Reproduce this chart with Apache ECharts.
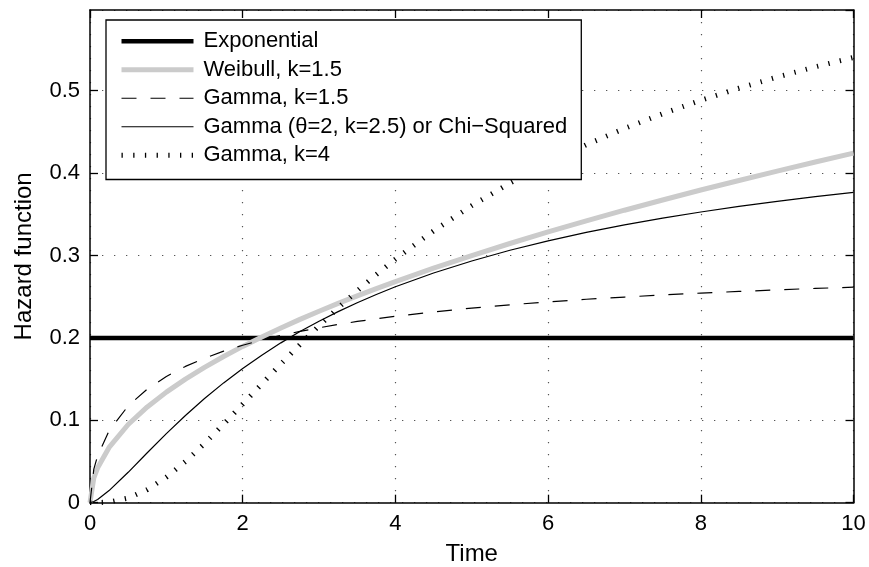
<!DOCTYPE html>
<html>
<head>
<meta charset="utf-8">
<script src="https://cdn.jsdelivr.net/npm/echarts@6/dist/echarts.min.js"></script>
<style>
html,body{margin:0;padding:0;background:#fff;}
#chart{width:869px;height:567px;}
</style>
</head>
<body>
<div id="chart"></div>
<script>
// ---- data ----
var time = [0, 0.05, 0.1, 0.25, 0.5, 0.75, 1, 1.25, 1.5, 1.75, 2, 2.25, 2.5, 2.75, 3, 3.25, 3.5, 3.75, 4, 4.5, 5, 5.5, 6, 6.5, 7, 7.5, 8, 8.5, 9, 9.5, 10];
var exponential = [0.2, 0.2, 0.2, 0.2, 0.2, 0.2, 0.2, 0.2, 0.2, 0.2, 0.2, 0.2, 0.2, 0.2, 0.2, 0.2, 0.2, 0.2, 0.2, 0.2, 0.2, 0.2, 0.2, 0.2, 0.2, 0.2, 0.2, 0.2, 0.2, 0.2, 0.2];
var weibull15 = [0, 0.0300, 0.0424, 0.0671, 0.0949, 0.1162, 0.1342, 0.1500, 0.1643, 0.1775, 0.1897, 0.2012, 0.2121, 0.2225, 0.2324, 0.2419, 0.2510, 0.2598, 0.2683, 0.2846, 0.3000, 0.3146, 0.3286, 0.3420, 0.3550, 0.3674, 0.3795, 0.3911, 0.4025, 0.4135, 0.4243];
var gamma15 = [0, 0.0408, 0.0571, 0.0873, 0.1175, 0.1379, 0.1532, 0.1654, 0.1754, 0.1839, 0.1911, 0.1974, 0.2030, 0.2079, 0.2123, 0.2163, 0.2200, 0.2232, 0.2263, 0.2316, 0.2362, 0.2402, 0.2437, 0.2469, 0.2496, 0.2521, 0.2544, 0.2564, 0.2583, 0.2601, 0.2616];
var chiSquared = [0, 0.0015, 0.0040, 0.0147, 0.0369, 0.0606, 0.0838, 0.1058, 0.1264, 0.1454, 0.1629, 0.1791, 0.1940, 0.2077, 0.2203, 0.2319, 0.2427, 0.2527, 0.2621, 0.2788, 0.2934, 0.3064, 0.3178, 0.3280, 0.3371, 0.3454, 0.3528, 0.3597, 0.3657, 0.3714, 0.3766];
var gamma4 = [0, 0, 0.0001, 0.0009, 0.0057, 0.0159, 0.0310, 0.0500, 0.0718, 0.0953, 0.1197, 0.1442, 0.1684, 0.1920, 0.2147, 0.2365, 0.2572, 0.2769, 0.2956, 0.3299, 0.3606, 0.3879, 0.4124, 0.4344, 0.4542, 0.4721, 0.4884, 0.5031, 0.5166, 0.5290, 0.5404];
var seriesNames = ['Exponential', 'Weibull, k=1.5', 'Gamma, k=1.5', 'Gamma (\u03b8=2, k=2.5) or Chi\u2212Squared', 'Gamma, k=4'];
var xTicks = [0, 2, 4, 6, 8, 10];
var yTicks = [0, 0.1, 0.2, 0.3, 0.4, 0.5];
var xTitle = 'Time';
var yTitle = 'Hazard function';

// ---- build ----
function pairs(vals) { return time.map(function (t, i) { return [t, vals[i]]; }); }
var FONT = '"Liberation Sans", Arial, Helvetica, sans-serif';
var FS = 22;
var FS_TITLE = 24;
function gridDots() { return { type: [1.3, 10.7], color: '#555', width: 1.2 }; }
function axisLine() { return { show: true, onZero: false, lineStyle: { color: '#000', width: 1.5 } }; }
function axisTick() { return { show: true, inside: true, length: 8, lineStyle: { color: '#000', width: 1.3 } }; }

var styles = [
  { color: '#000', width: 4.5, type: 'solid' },
  { color: '#cbcbcb', width: 5, type: 'solid' },
  { color: '#000', width: 1.2, type: [15, 14] },
  { color: '#000', width: 1.2, type: 'solid' },
  { color: '#000', width: 5, type: [1.3, 10.4], cap: 'butt' }
];
var valueSets = [exponential, weibull15, gamma15, chiSquared, gamma4];

var chart = echarts.init(document.getElementById('chart'), null, { renderer: 'canvas' });
var yMax = 0.598;

chart.setOption({
  animation: false,
  backgroundColor: '#fff',
  grid: { left: 90, right: 15.5, top: 10, bottom: 64.3, show: false, containLabel: false, outerBoundsMode: 'none' },
  xAxis: [{
    type: 'value', min: xTicks[0], max: xTicks[xTicks.length - 1], interval: 2, position: 'bottom',
    name: xTitle, nameLocation: 'middle', nameGap: 40,
    nameTextStyle: { fontFamily: FONT, fontSize: FS_TITLE, color: '#000' },
    axisLine: axisLine(), axisTick: axisTick(),
    axisLabel: { fontFamily: FONT, fontSize: FS, color: '#000', margin: 10 },
    splitLine: { show: true, lineStyle: gridDots() }
  }, {
    type: 'value', min: xTicks[0], max: xTicks[xTicks.length - 1], interval: 2, position: 'top',
    axisLine: axisLine(), axisTick: axisTick(), axisLabel: { show: false }, splitLine: { show: false }
  }],
  yAxis: [{
    type: 'value', min: yTicks[0], max: yMax, interval: 0.1, position: 'left',
    name: yTitle, nameLocation: 'middle', nameGap: 54, nameRotate: 90,
    nameTextStyle: { fontFamily: FONT, fontSize: FS_TITLE, color: '#000' },
    axisLine: axisLine(), axisTick: axisTick(),
    axisLabel: {
      fontFamily: FONT, fontSize: FS, color: '#000', margin: 10, showMaxLabel: false,
      formatter: function (v) { return v === 0 ? '0' : v.toFixed(1); }
    },
    splitLine: { show: true, lineStyle: gridDots() }
  }, {
    type: 'value', min: yTicks[0], max: yMax, interval: 0.1, position: 'right',
    axisLine: axisLine(), axisTick: axisTick(), axisLabel: { show: false }, splitLine: { show: false }
  }],
  legend: {
    orient: 'vertical', left: 106, top: 20,
    itemWidth: 72, itemHeight: 20, itemGap: 0,
    padding: [7, 14, 10, 13],
    borderColor: '#000', borderWidth: 1.3, backgroundColor: '#fff',
    itemStyle: { color: 'rgba(0,0,0,0)', borderWidth: 0, opacity: 0 },
    textStyle: { fontFamily: FONT, fontSize: FS, color: '#000', lineHeight: 28.5, padding: [0, 0, 0, 5] },
    data: seriesNames.map(function (n, i) {
      return { name: n, lineStyle: styles[i], itemStyle: { color: 'rgba(0,0,0,0)', borderWidth: 0, opacity: 0 } };
    })
  },
  series: seriesNames.map(function (n, i) {
    return {
      name: n, type: 'line', data: pairs(valueSets[i]), symbol: 'none', showSymbol: false,
      lineStyle: styles[i], itemStyle: { color: styles[i].color }
    };
  })
});
</script>
</body>
</html>
